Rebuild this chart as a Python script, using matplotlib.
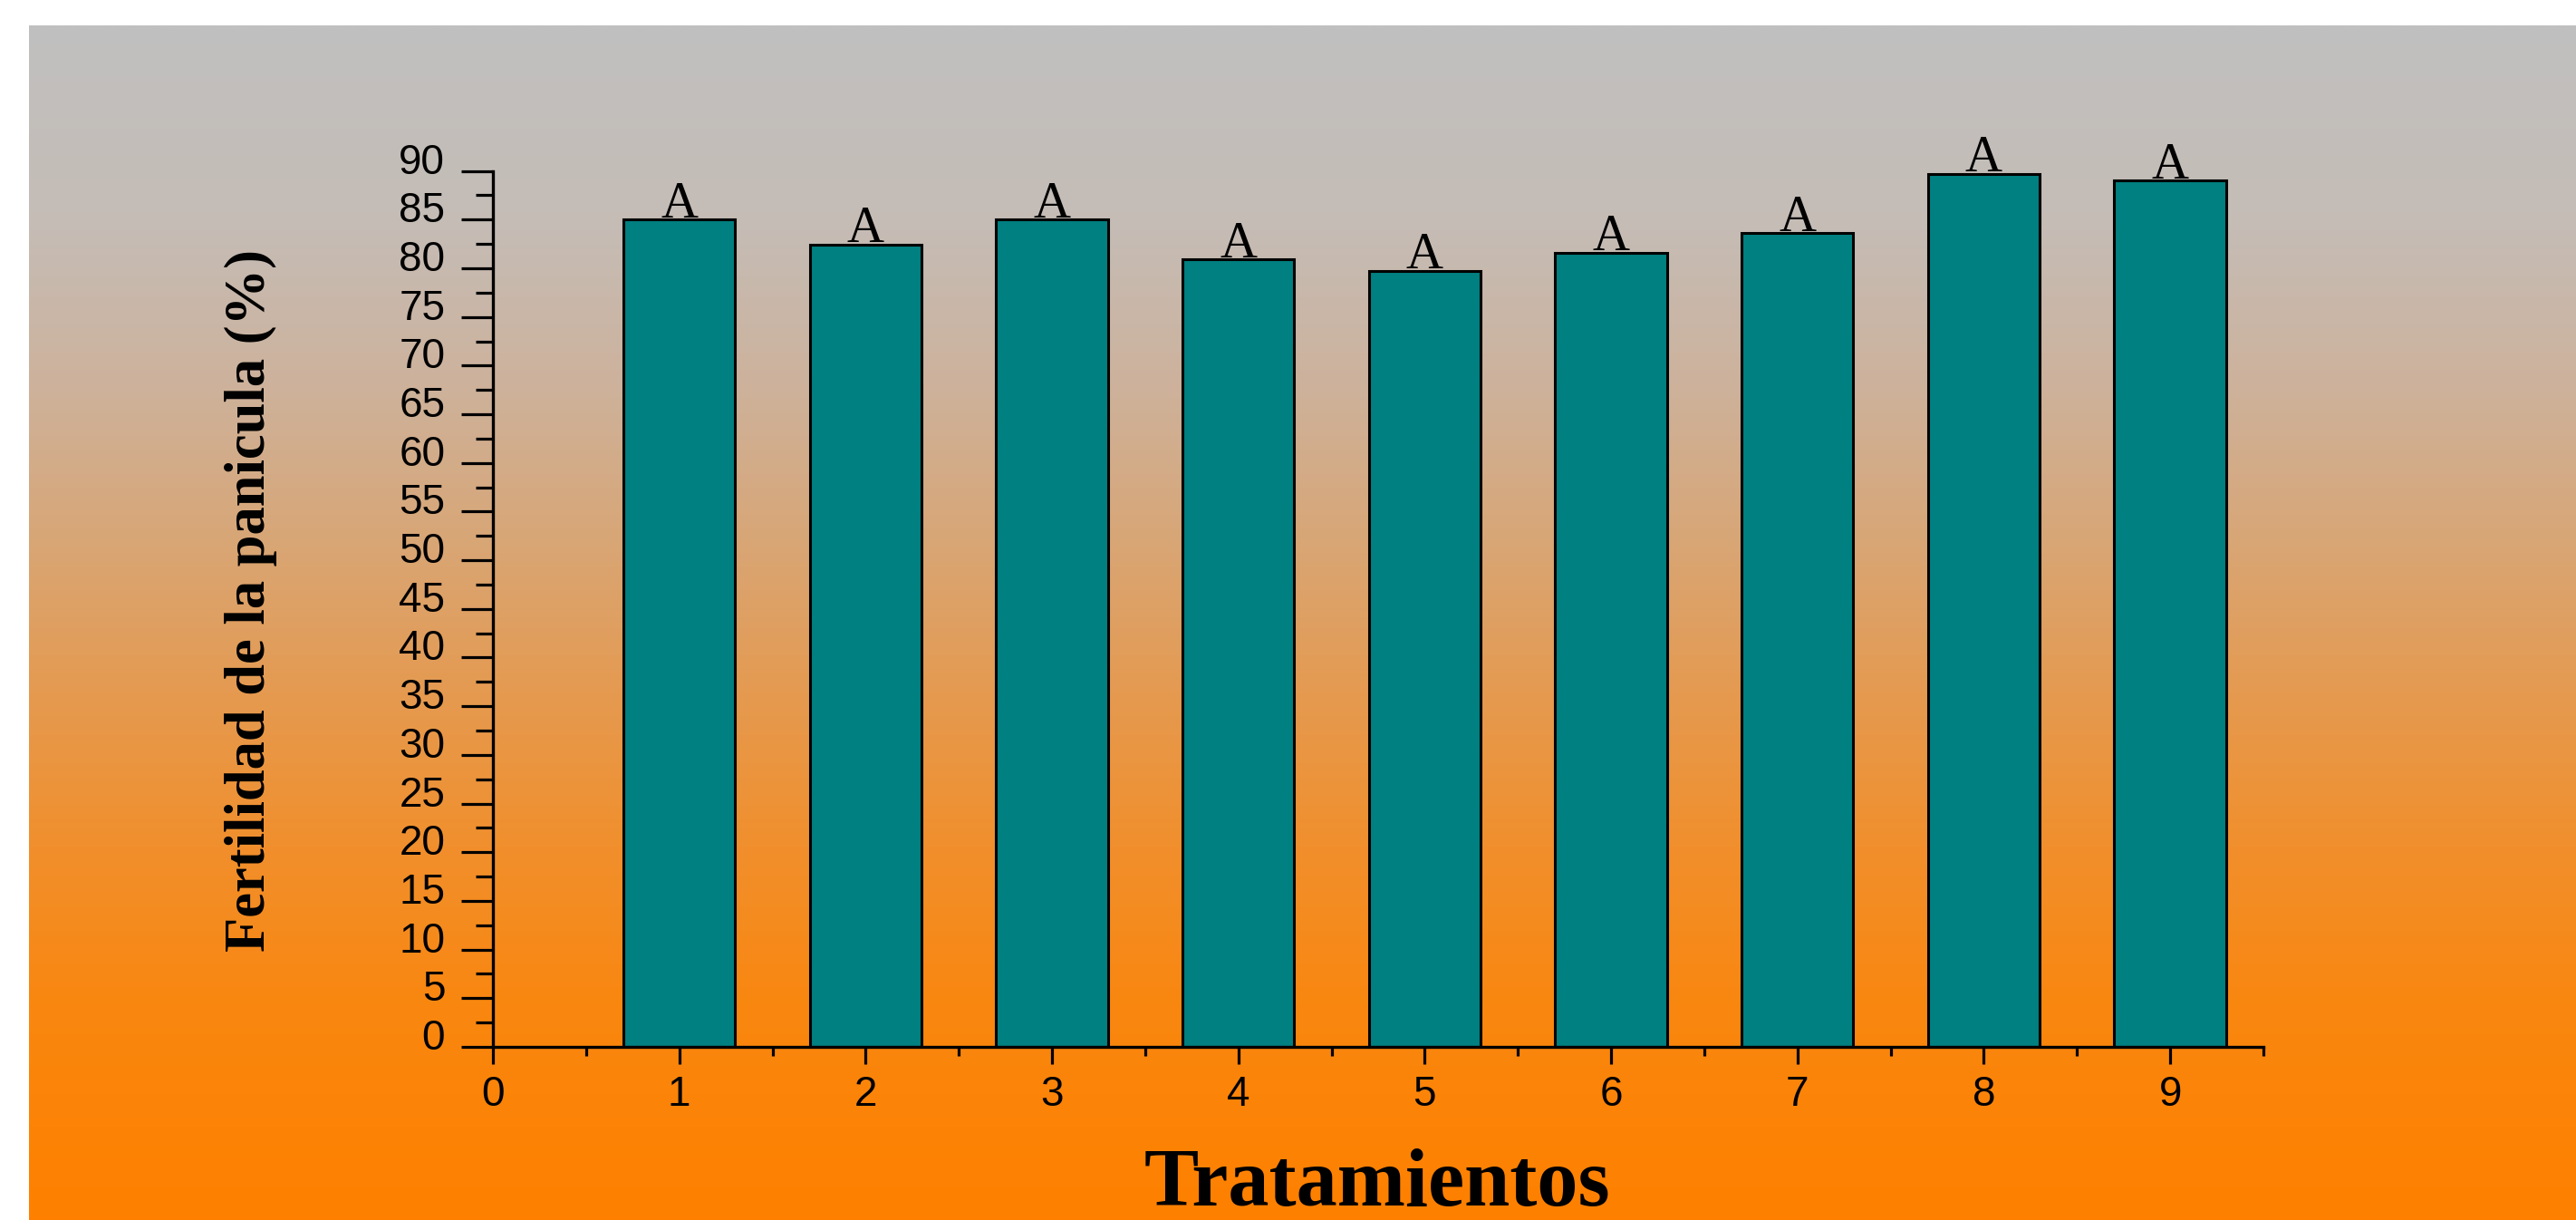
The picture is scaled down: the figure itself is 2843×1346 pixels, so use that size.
import numpy as np
import matplotlib
matplotlib.use("Agg")
import matplotlib.pyplot as plt
from matplotlib.colors import LinearSegmentedColormap
from matplotlib.ticker import MultipleLocator
from matplotlib.transforms import ScaledTranslation

# Panicle fertility per treatment, with Tukey group letters
treatments = [1, 2, 3, 4, 5, 6, 7, 8, 9]
fertility = [85.0, 82.4, 85.0, 80.9, 79.7, 81.6, 83.6, 89.7, 89.0]
groups = ["A", "A", "A", "A", "A", "A", "A", "A", "A"]

x_ticks = list(range(0, 10))
y_ticks = list(range(0, 91, 5))

W, H, DPI = 2843, 1346, 100

# slide style background: gray on top fading to orange at the bottom
bg_stops = [
    (0.00, (192, 192, 192)),
    (0.17, (197, 188, 181)),
    (0.30, (205, 178, 156)),
    (0.43, (216, 166, 118)),
    (0.56, (229, 154, 80)),
    (0.69, (241, 143, 44)),
    (0.82, (249, 135, 16)),
    (0.95, (253, 130, 4)),
    (1.00, (255, 128, 0)),
]


def main():
    fig = plt.figure(figsize=(W / DPI, H / DPI), dpi=DPI, facecolor="white")

    cmap = LinearSegmentedColormap.from_list(
        "slide_bg", [(p, tuple(c / 255 for c in rgb)) for p, rgb in bg_stops])
    bg = fig.add_axes([32 / W, 0, 1 - 32 / W, (H - 28) / H], zorder=0)
    bg.imshow(np.linspace(0, 1, 512).reshape(-1, 1), cmap=cmap, aspect="auto",
              interpolation="bilinear")
    bg.set_axis_off()

    left, right, bottom, top = 544, 2498, 1155, 188.6
    ax = fig.add_axes([left / W, (H - bottom) / H, (right - left) / W, (bottom - top) / H],
                      zorder=1)
    ax.set_facecolor("none")

    ax.bar(treatments, fertility, width=0.6, color="#008080",
           edgecolor="black", linewidth=2.2, zorder=2)

    for x, v, g in zip(treatments, fertility, groups):
        ax.annotate(g, (x, v), xytext=(0, 2), textcoords="offset points",
                    ha="center", va="baseline", fontsize=41,
                    family="Liberation Serif", color="black")

    ax.set_xlim(0, 9.5)
    ax.set_ylim(0, 90)
    ax.set_xticks(x_ticks)
    ax.set_yticks(y_ticks)
    ax.xaxis.set_minor_locator(MultipleLocator(0.5))
    ax.yaxis.set_minor_locator(MultipleLocator(2.5))

    for side in ("top", "right"):
        ax.spines[side].set_visible(False)
    for side in ("left", "bottom"):
        ax.spines[side].set_linewidth(2.4)

    ax.tick_params(axis="y", which="major", direction="out", length=25, width=2.3,
                   pad=13, labelsize=33)
    ax.tick_params(axis="y", which="minor", direction="out", length=13.5, width=2.3)
    ax.tick_params(axis="x", which="major", direction="out", length=14, width=2.3,
                   pad=8, labelsize=33)
    ax.tick_params(axis="x", which="minor", direction="out", length=7, width=2.3)

    # the value labels on the y axis sit a little above their ticks
    shift = ScaledTranslation(0, 0.14, fig.dpi_scale_trans)
    for lab in ax.get_yticklabels() + ax.get_xticklabels():
        lab.set_family("Liberation Sans")
    for lab in ax.get_yticklabels():
        lab.set_transform(lab.get_transform() + shift)

    fig.text(277 / W, 1 - 663 / H, "Fertilidad de la panicula (%)", rotation=90,
             ha="center", va="center", fontsize=45, fontweight="bold",
             family="Liberation Serif")
    fig.text(1520 / W, 1 - 1330 / H, "Tratamientos", ha="center", va="baseline",
             fontsize=65, fontweight="bold", family="Liberation Serif")

    fig.savefig("out.png", dpi=DPI, facecolor=fig.get_facecolor())
    plt.close(fig)


if __name__ == "__main__":
    main()
